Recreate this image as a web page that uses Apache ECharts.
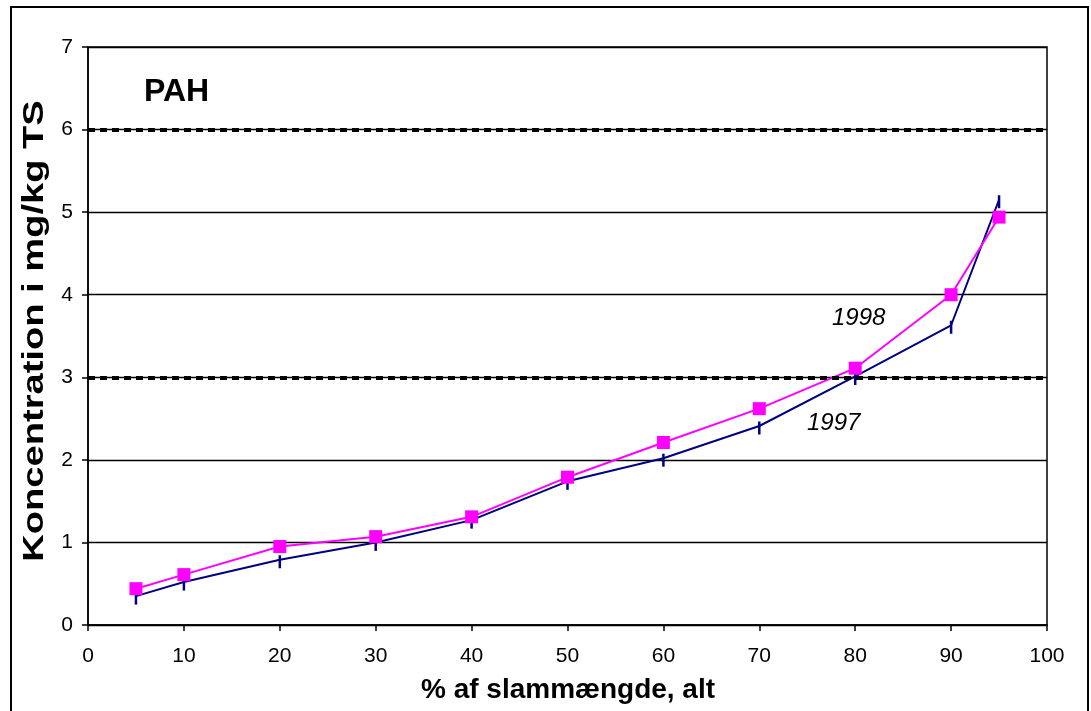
<!DOCTYPE html>
<html>
<head>
<meta charset="utf-8">
<script src="https://cdn.jsdelivr.net/npm/echarts@6/dist/echarts.min.js"></script>
<style>
html,body{margin:0;padding:0;background:#fff;}
#chart{width:1091px;height:711px;}
</style>
</head>
<body>
<div id="chart"></div>
<script>
// Share of sludge quantity (%), cumulative
const xPct = [5, 10, 20, 30, 40, 50, 60, 70, 80, 90, 95];
// PAH concentration, mg/kg TS
const pah1997 = [0.35, 0.52, 0.79, 1.0, 1.27, 1.74, 2.02, 2.41, 3.01, 3.63, 5.15];
const pah1998 = [0.44, 0.61, 0.95, 1.07, 1.31, 1.79, 2.21, 2.62, 3.11, 4.0, 4.94];
// Limit values drawn as dashed reference lines
const limitValues = [3, 6];

const FONT = '"Liberation Sans", Arial, sans-serif';

const chart = echarts.init(document.getElementById('chart'), null, {renderer: 'canvas'});

const pairs = (ys) => xPct.map((x, i) => [x, ys[i]]);

chart.setOption({
  animation: false,
  backgroundColor: '#ffffff',
  grid: {left: 88, right: 44, top: 47, bottom: 86, show: true, borderColor: '#000', borderWidth: 1.5, backgroundColor: 'transparent'},
  xAxis: {
    type: 'value', min: 0, max: 100, interval: 10,
    axisLine: {show: true, onZero: false, lineStyle: {color: '#000', width: 1.5}},
    axisTick: {show: true, length: 6, lineStyle: {color: '#000', width: 1.5}},
    axisLabel: {fontFamily: FONT, fontSize: 21, color: '#000', margin: 21},
    splitLine: {show: false}
  },
  yAxis: {
    type: 'value', min: 0, max: 7, interval: 1,
    axisLine: {show: true, lineStyle: {color: '#000', width: 1.5}},
    axisTick: {show: true, length: 6, lineStyle: {color: '#000', width: 1.5}},
    axisLabel: {fontFamily: FONT, fontSize: 21, color: '#000', margin: 15},
    splitLine: {show: true, lineStyle: {color: '#000', width: 1.3}}
  },
  graphic: [
    {type: 'rect', shape: {x: 11, y: 7, width: 1077, height: 720}, style: {fill: 'none', stroke: '#000', lineWidth: 2}, silent: true, z: 0},
    {type: 'text', x: 568, y: 690, style: {text: '% af slammængde, alt', fontFamily: FONT, fontSize: 28, fontWeight: 'bold', fill: '#000', textAlign: 'center', textVerticalAlign: 'middle'}},
    {type: 'text', x: 35, y: 331, rotation: Math.PI / 2, scaleX: 1.27,
     style: {text: 'Koncentration i mg/kg TS', fontFamily: FONT, fontSize: 30, fontWeight: 'bold', fill: '#000', textAlign: 'center', textVerticalAlign: 'middle'}},
    {type: 'text', x: 144, y: 92, style: {text: 'PAH', fontFamily: FONT, fontSize: 32, fontWeight: 'bold', fill: '#000', textVerticalAlign: 'middle'}},
    {type: 'text', x: 832, y: 318, style: {text: '1998', fontFamily: FONT, fontSize: 24, fontStyle: 'italic', fill: '#000', textVerticalAlign: 'middle'}},
    {type: 'text', x: 807, y: 423, style: {text: '1997', fontFamily: FONT, fontSize: 24, fontStyle: 'italic', fill: '#000', textVerticalAlign: 'middle'}}
  ],
  series: [
    {
      name: '1997', type: 'line', data: pairs(pah1997),
      lineStyle: {color: '#000080', width: 2},
      symbol: 'rect', symbolSize: [2.5, 13], symbolOffset: [0, 2],
      itemStyle: {color: '#000080'},
      z: 3,
      markLine: {
        silent: true, symbol: 'none', label: {show: false},
        lineStyle: {color: '#000', type: [7, 5], width: 4},
        data: limitValues.map(v => ({yAxis: v}))
      }
    },
    {
      name: '1998', type: 'line', data: pairs(pah1998),
      lineStyle: {color: '#ff00ff', width: 2},
      symbol: 'rect', symbolSize: 13,
      itemStyle: {color: '#ff00ff'},
      z: 4
    }
  ]
});
</script>
</body>
</html>
